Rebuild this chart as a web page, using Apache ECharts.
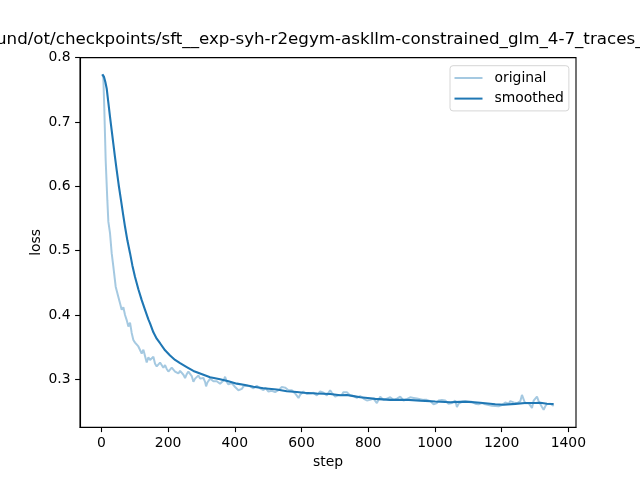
<!DOCTYPE html>
<html>
<head>
<meta charset="utf-8">
<script src="https://cdn.jsdelivr.net/npm/echarts@6/dist/echarts.min.js"></script>
<style>
  html, body { margin: 0; padding: 0; background: #fff; }
  #chart { width: 640px; height: 480px; }
</style>
</head>
<body>
<div id="chart"></div>
<script>
// 标题（左右两端被裁掉）
const titleText = 'und/ot/checkpoints/sft__exp-syh-r2egym-askllm-constrained_glm_4-7_traces_';

// 刻度
const xTicks = [0, 200, 400, 600, 800, 1000, 1200, 1400];
const yTicks = [0.3, 0.4, 0.5, 0.6, 0.7, 0.8];

// original 曲线
const origStep = [
  3, 6, 9, 13, 18, 21, 26, 31, 36, 43, 51, 56, 61, 66, 71, 76, 81, 86, 91, 96,
  101, 106, 111, 116, 121, 126, 131, 136, 141, 146, 151, 156, 161, 166, 171, 176, 181, 186, 191, 196,
  201, 206, 211, 216, 221, 226, 231, 236, 241, 246, 251, 256, 261, 266, 271, 276, 281, 286, 291, 296,
  301, 306, 311, 314, 318, 326, 331, 336, 341, 346, 351, 356, 361, 366, 371, 376, 381, 386, 391, 396,
  401, 406, 411, 416, 421, 426, 431, 436, 441, 446, 451, 456, 461, 466, 471, 476, 481, 486, 491, 496,
  501, 506, 511, 516, 521, 526, 531, 536, 541, 546, 551, 556, 561, 566, 571, 576, 581, 586, 591, 596,
  601, 606, 611, 616, 621, 626, 631, 636, 641, 646, 651, 656, 661, 666, 671, 676, 681, 686, 691, 696,
  701, 706, 711, 716, 721, 726, 731, 736, 741, 746, 751, 756, 761, 766, 771, 776, 781, 786, 791, 796,
  801, 806, 811, 816, 821, 826, 831, 836, 841, 846, 851, 856, 861, 866, 871, 876, 881, 886, 891, 896,
  901, 906, 911, 916, 921, 926, 931, 936, 941, 946, 951, 956, 961, 966, 971, 976, 981, 986, 991, 996,
  1001, 1006, 1011, 1016, 1021, 1026, 1031, 1036, 1041, 1046, 1051, 1056, 1061, 1066, 1071, 1076, 1081, 1086, 1091, 1096,
  1101, 1106, 1111, 1116, 1121, 1126, 1131, 1136, 1141, 1146, 1151, 1156, 1161, 1166, 1171, 1176, 1181, 1186, 1191, 1196,
  1201, 1206, 1211, 1216, 1221, 1226, 1231, 1236, 1241, 1246, 1251, 1256, 1261, 1264, 1268, 1271, 1276, 1281, 1286, 1291,
  1296, 1301, 1306, 1311, 1316, 1321, 1326, 1331, 1336, 1341, 1346, 1351, 1356
];
const origLoss = [
  0.774, 0.768, 0.718, 0.640, 0.578, 0.545, 0.527, 0.496, 0.475, 0.444, 0.428, 0.418, 0.408, 0.412, 0.400, 0.392, 0.382, 0.388, 0.372, 0.361,
  0.357, 0.360, 0.351, 0.350, 0.340, 0.346, 0.349, 0.326, 0.334, 0.330, 0.333, 0.335, 0.324, 0.320, 0.320, 0.326, 0.327, 0.318, 0.322, 0.316,
  0.312, 0.312, 0.318, 0.316, 0.312, 0.310, 0.309, 0.313, 0.314, 0.307, 0.302, 0.308, 0.312, 0.313, 0.305, 0.296, 0.301, 0.304, 0.306, 0.301,
  0.300, 0.302, 0.296, 0.289, 0.295, 0.301, 0.299, 0.297, 0.299, 0.297, 0.295, 0.293, 0.291, 0.298, 0.304, 0.296, 0.292, 0.290, 0.294, 0.291,
  0.288, 0.286, 0.283, 0.280, 0.285, 0.289, 0.287, 0.290, 0.291, 0.289, 0.287, 0.286, 0.289, 0.290, 0.288, 0.286, 0.285, 0.283, 0.287, 0.286,
  0.281, 0.278, 0.282, 0.284, 0.280, 0.281, 0.283, 0.286, 0.288, 0.291, 0.287, 0.284, 0.283, 0.285, 0.283, 0.281, 0.278, 0.275, 0.271, 0.276,
  0.279, 0.281, 0.279, 0.277, 0.280, 0.278, 0.281, 0.279, 0.276, 0.275, 0.278, 0.281, 0.283, 0.279, 0.276, 0.275, 0.279, 0.283, 0.279, 0.276,
  0.273, 0.274, 0.275, 0.273, 0.276, 0.280, 0.283, 0.280, 0.277, 0.275, 0.276, 0.274, 0.273, 0.271, 0.272, 0.274, 0.273, 0.270, 0.268, 0.267,
  0.265, 0.268, 0.266, 0.270, 0.267, 0.263, 0.268, 0.273, 0.270, 0.268, 0.267, 0.270, 0.271, 0.272, 0.269, 0.268, 0.267, 0.270, 0.271, 0.273,
  0.270, 0.267, 0.265, 0.269, 0.271, 0.272, 0.270, 0.271, 0.273, 0.270, 0.268, 0.269, 0.267, 0.268, 0.266, 0.268, 0.268, 0.266, 0.264, 0.261,
  0.2585, 0.263, 0.267, 0.269, 0.268, 0.266, 0.267, 0.264, 0.262, 0.260, 0.263, 0.265, 0.267, 0.257, 0.262, 0.264, 0.265, 0.263, 0.265, 0.267,
  0.265, 0.264, 0.265, 0.263, 0.262, 0.260, 0.261, 0.263, 0.263, 0.262, 0.261, 0.260, 0.260, 0.261, 0.259, 0.258, 0.2585, 0.259, 0.258, 0.260,
  0.260, 0.262, 0.264, 0.265, 0.262, 0.266, 0.2675, 0.264, 0.262, 0.2627, 0.262, 0.266, 0.2756, 0.277, 0.266, 0.2627, 0.262, 0.263, 0.2617, 0.2555,
  0.2667, 0.269, 0.273, 0.266, 0.2617, 0.257, 0.2525, 0.258, 0.2617, 0.260, 0.262, 0.2617, 0.2585
];

// smoothed 曲线
const smoothStep = [
  3, 8, 12, 16, 21, 26, 31, 36, 41, 46, 52, 59, 65, 71, 78, 86, 93, 101, 111, 121,
  131, 141, 146, 156, 166, 176, 191, 206, 221, 236, 256, 276, 296, 326, 356, 381, 406, 431, 456, 486,
  526, 556, 586, 606, 646, 686, 716, 736, 756, 776, 806, 821, 866, 911, 956, 1001, 1046, 1091, 1136, 1181,
  1206, 1241, 1271, 1301, 1316, 1336, 1356
];
const smoothLoss = [
  0.774, 0.770, 0.762, 0.752, 0.730, 0.708, 0.687, 0.666, 0.645, 0.625, 0.602, 0.578, 0.557, 0.537, 0.516, 0.496, 0.477, 0.459, 0.440, 0.423,
  0.408, 0.393, 0.387, 0.373, 0.363, 0.356, 0.345, 0.337, 0.330, 0.325, 0.319, 0.313, 0.309, 0.303, 0.300, 0.297, 0.2932, 0.291, 0.2885, 0.286,
  0.284, 0.2815, 0.2802, 0.279, 0.278, 0.2772, 0.2752, 0.2755, 0.2738, 0.272, 0.2705, 0.2695, 0.268, 0.2682, 0.2668, 0.2655, 0.2643, 0.2652, 0.2635, 0.2612,
  0.2605, 0.2617, 0.263, 0.263, 0.2635, 0.262, 0.2615
];

const font = 'DejaVu Sans';
const pairs = (xs, ys) => xs.map((x, i) => [x, ys[i]]);

const chart = echarts.init(document.getElementById('chart'), null, { renderer: 'canvas' });

chart.setOption({
  animation: false,
  backgroundColor: '#fff',
  title: {
    text: titleText,
    left: -4,
    top: 31,
    padding: 0,
    textStyle: { fontFamily: font, fontSize: 16.7, fontWeight: 'normal', color: '#000' }
  },
  legend: {
    orient: 'vertical',
    left: 450,
    top: 65.7,
    padding: [5.3, 5, 5.3, 4.5],
    itemWidth: 28,
    itemHeight: 2,
    itemGap: 6.6,
    icon: 'rect',
    borderColor: '#d6d6d6',
    borderWidth: 1,
    borderRadius: 3,
    backgroundColor: 'rgba(255,255,255,0.8)',
    textStyle: { fontFamily: font, fontSize: 13.9, color: '#000', lineHeight: 14, padding: [0, 0, 0, 7] },
    data: ['original', 'smoothed']
  },
  grid: {
    left: 80, right: 64, top: 57.6, bottom: 52.8,
    show: true, borderColor: '#000', borderWidth: 1.1, backgroundColor: 'transparent'
  },
  xAxis: {
    type: 'value',
    min: -64,
    max: 1423,
    name: 'step',
    nameLocation: 'middle',
    nameGap: 28,
    nameMoveOverlap: false,
    nameTextStyle: { fontFamily: font, fontSize: 13.9, color: '#000' },
    splitLine: { show: false },
    axisLine: { show: true, onZero: false, lineStyle: { color: '#000', width: 1.1 } },
    axisTick: { show: true, length: 4.9, lineStyle: { color: '#000', width: 1.1 }, customValues: xTicks },
    axisLabel: {
      fontFamily: font, fontSize: 13.9, color: '#000', margin: 9.5, customValues: xTicks,
      formatter: v => String(v)
    }
  },
  yAxis: {
    type: 'value',
    min: 0.2255,
    max: 0.8,
    name: 'loss',
    nameLocation: 'middle',
    nameGap: 37,
    nameMoveOverlap: false,
    nameTextStyle: { fontFamily: font, fontSize: 13.9, color: '#000' },
    splitLine: { show: false },
    axisLine: { show: true, onZero: false, lineStyle: { color: '#000', width: 1.1 } },
    axisTick: { show: true, length: 4.9, lineStyle: { color: '#000', width: 1.1 }, customValues: yTicks },
    axisLabel: {
      fontFamily: font, fontSize: 13.9, color: '#000', margin: 9.5, customValues: yTicks,
      formatter: v => v.toFixed(1)
    }
  },
  series: [
    {
      name: 'original',
      type: 'line',
      data: pairs(origStep, origLoss),
      showSymbol: false,
      itemStyle: { color: '#a5c9e1' },
      lineStyle: { color: '#1f77b4', opacity: 0.4, width: 2 },
      z: 2
    },
    {
      name: 'smoothed',
      type: 'line',
      data: pairs(smoothStep, smoothLoss),
      showSymbol: false,
      itemStyle: { color: '#1f77b4' },
      lineStyle: { color: '#1f77b4', width: 2.1 },
      z: 3
    }
  ]
});
</script>
</body>
</html>
